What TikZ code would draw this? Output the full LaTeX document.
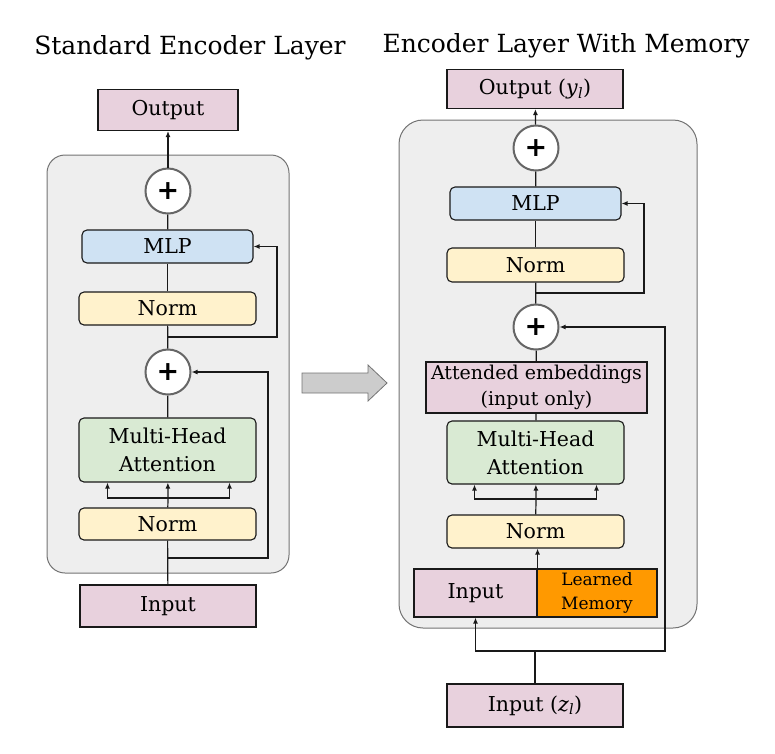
\documentclass[tikz,border=0pt]{standalone}
\usepackage{fontspec}
\setmainfont{DejaVu Serif}
\newfontfamily\sumfont{DejaVu Sans}
\usetikzlibrary{arrows.meta}
\definecolor{iopink}{HTML}{E8D1DD}
\definecolor{mlpblue}{HTML}{CFE2F3}
\definecolor{normyellow}{HTML}{FFF2CC}
\definecolor{mhagreen}{HTML}{D9EAD3}
\definecolor{memorange}{HTML}{FF9900}
\definecolor{panelgray}{HTML}{EEEEEE}
\begin{document}
\begin{tikzpicture}[x=1pt, y=-1pt,
    every node/.style = {inner sep = 0pt, align = center, text = black, font = \fontsize{20.5}{28}\selectfont},
    blk/.style = {draw = black!90, line width = 1.1pt, rounded corners = 5pt, minimum width = 177pt, minimum height = 33pt},
    normblk/.style = {blk, fill = normyellow},
    mlpblk/.style = {blk, fill = mlpblue, minimum width = 171pt},
    mhablk/.style = {blk, fill = mhagreen, minimum height = 64pt},
    pinkblk/.style = {draw = black!90, line width = 1.1pt, fill = iopink},
    sumnode/.style = {circle, draw = black!60, line width = 2pt, fill = white, minimum size = 45pt, font = \sumfont\bfseries\fontsize{27}{27}\selectfont},
    panel/.style = {draw = black!55, line width = 1pt, fill = panelgray},
    link/.style = {line width = 1.2pt, draw = black!90},
    flow/.style = {link, -{Latex[length = 6pt, width = 5pt]}}]
    \useasboundingbox (0,0) rectangle (775,753);
    \draw[panel, rounded corners = 18pt] (47,155) rectangle (289,573);
    \draw[panel, rounded corners = 24pt] (399,120) rectangle (697,628);
    \draw[fill = black!20, draw = black!55, line width = 0.8pt] (302,373) -- (368,373) -- (368,365) -- (387,383) -- (368,401) -- (368,393) -- (302,393) -- cycle;
    \node[font = \fontsize{25}{28}\selectfont] (ltitle) at (190,48) {Standard Encoder Layer};
    \node[pinkblk, minimum width = 140pt, minimum height = 41pt] (lout) at (168,110) {Output};
    \node[sumnode] (lsum1) at (168,191) {+};
    \node[mlpblk] (lmlp) at (167.5,246.5) {MLP};
    \node[normblk] (lnorm1) at (167.5,308.5) {Norm};
    \node[sumnode] (lsum2) at (168,372) {+};
    \node[mhablk] (lmha) at (167.5,450) {Multi-Head\\Attention};
    \node[normblk, minimum height = 32pt] (lnorm2) at (167.5,524) {Norm};
    \node[pinkblk, minimum width = 176pt, minimum height = 42pt] (lin) at (168,606) {Input};
    \coordinate (lsplit) at (168,498);
    \coordinate (lres1) at (168,337);
    \coordinate (lres2) at (168,558);
    \draw[flow] (lsum1) -- (lout);
    \draw[link] (lmlp) -- (lsum1);
    \draw[link] (lnorm1) -- (lmlp);
    \draw[link] (lsum2) -- (lnorm1);
    \draw[link] (lmha) -- (lsum2);
    \draw[link] (lin) -- (lnorm2);
    \draw[link] (lnorm2) -- (lsplit);
    \draw[flow] (lsplit) -- (lmha);
    \draw[flow] (lsplit) -| ([xshift = -60pt]lmha.south);
    \draw[flow] (lsplit) -| ([xshift = 62pt]lmha.south);
    \draw[flow] (lres1) -- ++(109,0) |- (lmlp.east);
    \draw[flow] (lres2) -- ++(100,0) |- (lsum2.east);
    \node[font = \fontsize{25}{28}\selectfont] (rtitle) at (566,46) {Encoder Layer With Memory};
    \node[pinkblk, minimum width = 176pt, minimum height = 39pt] (rout) at (535,89) {Output (\textit{y}\textsubscript{\textit{l}})};
    \node[sumnode] (rsum1) at (536,148) {+};
    \node[mlpblk] (rmlp) at (535.5,203.5) {MLP};
    \node[normblk, minimum height = 34pt] (rnorm1) at (535.5,265) {Norm};
    \node[sumnode] (rsum2) at (536,327) {+};
    \node[pinkblk, minimum width = 221pt, minimum height = 51pt, font = \fontsize{19}{26}\selectfont] (ratt) at (536.5,387.5) {Attended embeddings\\(input only)};
    \node[mhablk, minimum height = 63pt] (rmha) at (535.5,452.5) {Multi-Head\\Attention};
    \node[normblk] (rnorm2) at (535.5,531.5) {Norm};
    \node[pinkblk, minimum width = 123pt, minimum height = 48pt] (rin) at (475.5,593) {Input};
    \node[pinkblk, fill = memorange, minimum width = 120pt, minimum height = 48pt, font = \fontsize{17}{24}\selectfont] (rmem) at (597,593) {Learned\\Memory};
    \node[pinkblk, minimum width = 176pt, minimum height = 43pt] (rzin) at (535,705.5) {Input (\textit{z}\textsubscript{\textit{l}})};
    \coordinate (rsplit) at (536,499);
    \coordinate (rres1) at (536,293);
    \coordinate (rjoin) at (535,651);
    \draw[flow] (rsum1) -- (rout);
    \draw[link] (rmlp) -- (rsum1);
    \draw[link] (rnorm1) -- (rmlp);
    \draw[link] (rsum2) -- (rnorm1);
    \draw[link] (ratt) -- (rsum2);
    \draw[link] (rmha) -- (ratt);
    \draw[link] (rnorm2) -- (rsplit);
    \draw[flow] (rsplit) -- (rmha);
    \draw[flow] (rsplit) -| ([xshift = -61pt]rmha.south);
    \draw[flow] (rsplit) -| ([xshift = 61pt]rmha.south);
    \draw[flow] (rin.north east) -- (rin.north east |- rnorm2.south);
    \draw[flow] (rres1) -- ++(108,0) |- (rmlp.east);
    \draw[link] (rzin) -- (rjoin);
    \draw[flow] (rjoin) -| (rin.south);
    \draw[flow] (rjoin) -- ++(130,0) |- (rsum2.east);
\end{tikzpicture}
\end{document}
